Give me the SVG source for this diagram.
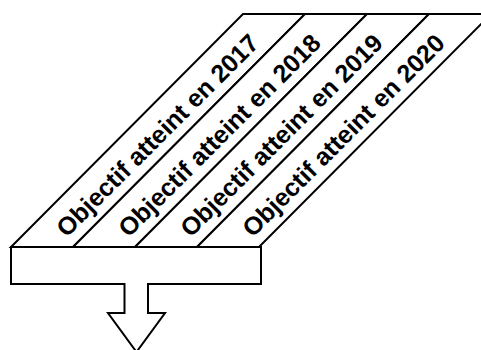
<svg xmlns="http://www.w3.org/2000/svg" width="481" height="350" viewBox="0 0 481 350">
<style>
.band{fill:#fff;stroke:#000;stroke-width:2;stroke-linejoin:miter}
.lbl{font-family:"Liberation Sans",Arial,sans-serif;font-weight:bold;font-size:25px;fill:#000;text-anchor:middle}
.base{fill:#fff;stroke:#000;stroke-width:2}
</style>
<rect width="481" height="350" fill="#fff"/>
<g id="band-2017">
<polygon class="band" points="11,247 73,247 305,14 243,14"/>
<text class="lbl" transform="translate(163.5,141.5) rotate(-45)">Objectif atteint en 2017</text>
</g>
<g id="band-2018">
<polygon class="band" points="73,247 135,247 367,14 305,14"/>
<text class="lbl" transform="translate(225.5,141.5) rotate(-45)">Objectif atteint en 2018</text>
</g>
<g id="band-2019">
<polygon class="band" points="135,247 197,247 429,14 367,14"/>
<text class="lbl" transform="translate(287.5,141.5) rotate(-45)">Objectif atteint en 2019</text>
</g>
<g id="band-2020">
<polygon class="band" points="197,247 259,247 491,14 429,14"/>
<text class="lbl" transform="translate(349.5,141.5) rotate(-45)">Objectif atteint en 2020</text>
</g>
<g id="connectors">
<path id="base-arrow" class="base" d="M11,247 H261 V284 H148 V313 H165 L136.5,352 L108,313 H124.5 V284 H11 Z"/>
</g>
</svg>
